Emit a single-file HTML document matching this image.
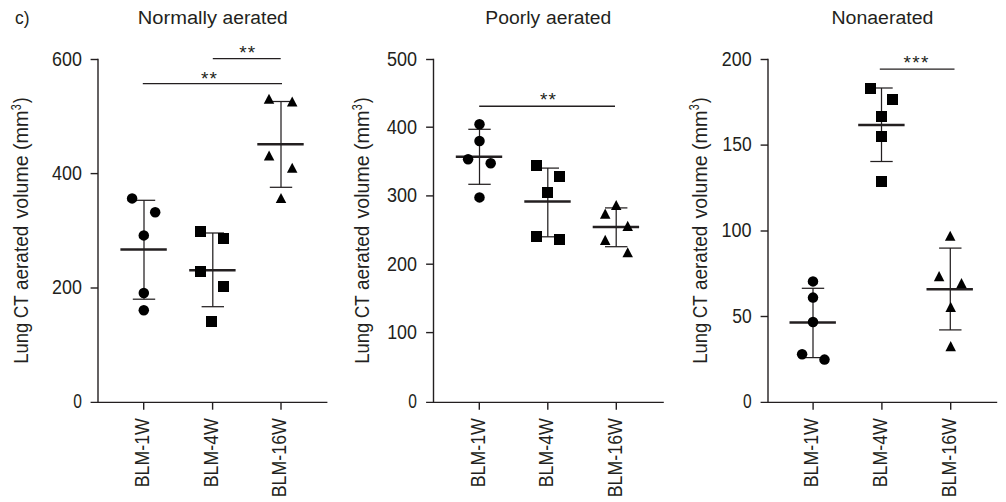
<!DOCTYPE html>
<html lang="en"><head><meta charset="utf-8"><title>Lung CT aerated volume</title>
<style>html,body{margin:0;padding:0;background:#fff;}svg{display:block;font-family:"Liberation Sans",sans-serif;}svg text{fill:#231f20;stroke:none;}.m{fill:#000;stroke:none;}</style></head><body>
<svg width="1006" height="502" viewBox="0 0 1006 502" stroke="#231f20" fill="#231f20" stroke-linecap="butt">
<rect x="0" y="0" width="1006" height="502" fill="#fff" stroke="none"/>
<text x="15.00" y="23.80" font-size="19.2" textLength="14.55" lengthAdjust="spacingAndGlyphs">c)</text>
<g>
<line x1="98.00" y1="58.80" x2="98.00" y2="403.10" stroke-width="1.4"/>
<line x1="90.60" y1="402.40" x2="327.40" y2="402.40" stroke-width="1.4"/>
<line x1="90.60" y1="59.50" x2="98.00" y2="59.50" stroke-width="1.4"/>
<text x="52.10" y="65.80" font-size="19.5" textLength="29.86" lengthAdjust="spacingAndGlyphs">600</text>
<line x1="90.60" y1="173.60" x2="98.00" y2="173.60" stroke-width="1.4"/>
<text x="52.10" y="179.90" font-size="19.5" textLength="29.86" lengthAdjust="spacingAndGlyphs">400</text>
<line x1="90.60" y1="288.00" x2="98.00" y2="288.00" stroke-width="1.4"/>
<text x="52.10" y="294.30" font-size="19.5" textLength="29.86" lengthAdjust="spacingAndGlyphs">200</text>
<text x="73.30" y="408.20" font-size="19.5" textLength="8.68" lengthAdjust="spacingAndGlyphs">0</text>
<line x1="143.70" y1="402.40" x2="143.70" y2="409.70" stroke-width="1.4"/>
<text transform="translate(149.00,487.27) rotate(-90)" font-size="20.4" textLength="69.11" lengthAdjust="spacingAndGlyphs">BLM-1W</text>
<line x1="212.60" y1="402.40" x2="212.60" y2="409.70" stroke-width="1.4"/>
<text transform="translate(217.90,487.27) rotate(-90)" font-size="20.4" textLength="69.11" lengthAdjust="spacingAndGlyphs">BLM-4W</text>
<line x1="281.00" y1="402.40" x2="281.00" y2="409.70" stroke-width="1.4"/>
<text transform="translate(286.30,497.27) rotate(-90)" font-size="20.4" textLength="79.11" lengthAdjust="spacingAndGlyphs">BLM-16W</text>
<text x="137.75" y="23.80" font-size="19.2" textLength="79.32" lengthAdjust="spacingAndGlyphs">Normally</text>
<text x="222.60" y="23.80" font-size="19.2" textLength="65.17" lengthAdjust="spacingAndGlyphs">aerated</text>
<text transform="translate(28.30,363.70) rotate(-90)" font-size="20.4" textLength="41.01" lengthAdjust="spacingAndGlyphs">Lung</text>
<text transform="translate(28.30,317.92) rotate(-90)" font-size="20.4" textLength="22.40" lengthAdjust="spacingAndGlyphs">CT</text>
<text transform="translate(28.30,290.00) rotate(-90)" font-size="20.4" textLength="64.22" lengthAdjust="spacingAndGlyphs">aerated</text>
<text transform="translate(28.30,218.50) rotate(-90)" font-size="20.4" textLength="63.13" lengthAdjust="spacingAndGlyphs">volume</text>
<text transform="translate(28.30,150.07) rotate(-90)" font-size="20.4" textLength="39.53" lengthAdjust="spacingAndGlyphs">(mm</text>
<text transform="translate(20.90,110.30) rotate(-90)" font-size="15.4" textLength="5.99" lengthAdjust="spacingAndGlyphs">3</text>
<text transform="translate(28.30,103.10) rotate(-90)" font-size="20.4" textLength="5.55" lengthAdjust="spacingAndGlyphs">)</text>
<line x1="212.80" y1="58.60" x2="280.70" y2="58.60" stroke-width="1.4"/>
<line x1="142.80" y1="83.60" x2="282.00" y2="83.60" stroke-width="1.4"/>
<line x1="144.00" y1="200.30" x2="144.00" y2="299.20" stroke-width="1.25"/>
<line x1="132.80" y1="200.30" x2="155.20" y2="200.30" stroke-width="1.25"/>
<line x1="132.80" y1="299.20" x2="155.20" y2="299.20" stroke-width="1.25"/>
<line x1="120.40" y1="249.55" x2="166.80" y2="249.55" stroke-width="2.5"/>
<circle class="m" cx="132.10" cy="198.40" r="5.25"/>
<circle class="m" cx="155.20" cy="212.20" r="5.25"/>
<circle class="m" cx="143.80" cy="235.40" r="5.25"/>
<circle class="m" cx="143.80" cy="293.00" r="5.25"/>
<circle class="m" cx="143.80" cy="310.20" r="5.25"/>
<line x1="212.80" y1="233.00" x2="212.80" y2="306.70" stroke-width="1.25"/>
<line x1="201.60" y1="233.00" x2="224.00" y2="233.00" stroke-width="1.25"/>
<line x1="201.60" y1="306.70" x2="224.00" y2="306.70" stroke-width="1.25"/>
<line x1="189.20" y1="270.30" x2="235.60" y2="270.30" stroke-width="2.5"/>
<rect class="m" x="195" y="226" width="11" height="11"/>
<rect class="m" x="218" y="233" width="11" height="11"/>
<rect class="m" x="195" y="266" width="11" height="11"/>
<rect class="m" x="218" y="281" width="11" height="11"/>
<rect class="m" x="206" y="316" width="11" height="11"/>
<line x1="281.00" y1="101.50" x2="281.00" y2="187.30" stroke-width="1.25"/>
<line x1="269.80" y1="101.50" x2="292.20" y2="101.50" stroke-width="1.25"/>
<line x1="269.80" y1="187.30" x2="292.20" y2="187.30" stroke-width="1.25"/>
<line x1="257.30" y1="144.30" x2="303.70" y2="144.30" stroke-width="2.5"/>
<polygon class="m" points="269.00,93.70 263.75,103.80 274.25,103.80"/>
<polygon class="m" points="292.20,96.40 286.95,106.50 297.45,106.50"/>
<polygon class="m" points="269.10,150.40 263.85,160.50 274.35,160.50"/>
<polygon class="m" points="292.20,162.70 286.95,172.80 297.45,172.80"/>
<polygon class="m" points="281.00,193.00 275.75,203.10 286.25,203.10"/>
</g>
<g>
<line x1="433.50" y1="58.80" x2="433.50" y2="403.10" stroke-width="1.4"/>
<line x1="426.10" y1="402.40" x2="663.80" y2="402.40" stroke-width="1.4"/>
<line x1="426.10" y1="59.50" x2="433.50" y2="59.50" stroke-width="1.4"/>
<text x="386.90" y="65.80" font-size="19.5" textLength="30.06" lengthAdjust="spacingAndGlyphs">500</text>
<line x1="426.10" y1="127.20" x2="433.50" y2="127.20" stroke-width="1.4"/>
<text x="386.80" y="133.50" font-size="19.5" textLength="30.16" lengthAdjust="spacingAndGlyphs">400</text>
<line x1="426.10" y1="195.90" x2="433.50" y2="195.90" stroke-width="1.4"/>
<text x="386.90" y="202.20" font-size="19.5" textLength="30.06" lengthAdjust="spacingAndGlyphs">300</text>
<line x1="426.10" y1="264.20" x2="433.50" y2="264.20" stroke-width="1.4"/>
<text x="387.00" y="270.50" font-size="19.5" textLength="29.96" lengthAdjust="spacingAndGlyphs">200</text>
<line x1="426.10" y1="332.60" x2="433.50" y2="332.60" stroke-width="1.4"/>
<text x="387.18" y="338.90" font-size="19.5" textLength="29.77" lengthAdjust="spacingAndGlyphs">100</text>
<text x="408.30" y="408.20" font-size="19.5" textLength="8.68" lengthAdjust="spacingAndGlyphs">0</text>
<line x1="479.30" y1="402.40" x2="479.30" y2="409.70" stroke-width="1.4"/>
<text transform="translate(484.60,487.27) rotate(-90)" font-size="20.4" textLength="69.11" lengthAdjust="spacingAndGlyphs">BLM-1W</text>
<line x1="547.80" y1="402.40" x2="547.80" y2="409.70" stroke-width="1.4"/>
<text transform="translate(553.10,487.27) rotate(-90)" font-size="20.4" textLength="69.11" lengthAdjust="spacingAndGlyphs">BLM-4W</text>
<line x1="616.30" y1="402.40" x2="616.30" y2="409.70" stroke-width="1.4"/>
<text transform="translate(621.60,497.27) rotate(-90)" font-size="20.4" textLength="79.11" lengthAdjust="spacingAndGlyphs">BLM-16W</text>
<text x="485.39" y="23.80" font-size="19.2" textLength="54.80" lengthAdjust="spacingAndGlyphs">Poorly</text>
<text x="546.00" y="23.80" font-size="19.2" textLength="65.27" lengthAdjust="spacingAndGlyphs">aerated</text>
<text transform="translate(368.90,363.70) rotate(-90)" font-size="20.4" textLength="41.01" lengthAdjust="spacingAndGlyphs">Lung</text>
<text transform="translate(368.90,317.92) rotate(-90)" font-size="20.4" textLength="22.40" lengthAdjust="spacingAndGlyphs">CT</text>
<text transform="translate(368.90,290.00) rotate(-90)" font-size="20.4" textLength="64.22" lengthAdjust="spacingAndGlyphs">aerated</text>
<text transform="translate(368.90,218.50) rotate(-90)" font-size="20.4" textLength="63.13" lengthAdjust="spacingAndGlyphs">volume</text>
<text transform="translate(368.90,150.07) rotate(-90)" font-size="20.4" textLength="39.53" lengthAdjust="spacingAndGlyphs">(mm</text>
<text transform="translate(361.50,110.30) rotate(-90)" font-size="15.4" textLength="5.99" lengthAdjust="spacingAndGlyphs">3</text>
<text transform="translate(368.90,103.10) rotate(-90)" font-size="20.4" textLength="5.55" lengthAdjust="spacingAndGlyphs">)</text>
<line x1="479.20" y1="106.30" x2="615.00" y2="106.30" stroke-width="1.4"/>
<line x1="479.50" y1="129.30" x2="479.50" y2="184.30" stroke-width="1.25"/>
<line x1="468.30" y1="129.30" x2="490.70" y2="129.30" stroke-width="1.25"/>
<line x1="468.30" y1="184.30" x2="490.70" y2="184.30" stroke-width="1.25"/>
<line x1="455.80" y1="156.70" x2="502.20" y2="156.70" stroke-width="2.5"/>
<circle class="m" cx="479.50" cy="124.30" r="5.25"/>
<circle class="m" cx="479.50" cy="141.00" r="5.25"/>
<circle class="m" cx="468.10" cy="159.20" r="5.25"/>
<circle class="m" cx="490.70" cy="163.20" r="5.25"/>
<circle class="m" cx="479.50" cy="197.40" r="5.25"/>
<line x1="547.80" y1="168.10" x2="547.80" y2="236.80" stroke-width="1.25"/>
<line x1="536.60" y1="168.10" x2="559.00" y2="168.10" stroke-width="1.25"/>
<line x1="536.60" y1="236.80" x2="559.00" y2="236.80" stroke-width="1.25"/>
<line x1="524.30" y1="201.40" x2="570.70" y2="201.40" stroke-width="2.5"/>
<rect class="m" x="531" y="160" width="11" height="11"/>
<rect class="m" x="554" y="171" width="11" height="11"/>
<rect class="m" x="542" y="187" width="11" height="11"/>
<rect class="m" x="531" y="231" width="11" height="11"/>
<rect class="m" x="554" y="234" width="11" height="11"/>
<line x1="616.20" y1="207.90" x2="616.20" y2="246.70" stroke-width="1.25"/>
<line x1="605.00" y1="207.90" x2="627.40" y2="207.90" stroke-width="1.25"/>
<line x1="605.00" y1="246.70" x2="627.40" y2="246.70" stroke-width="1.25"/>
<line x1="592.70" y1="227.10" x2="639.10" y2="227.10" stroke-width="2.5"/>
<polygon class="m" points="616.20,199.90 610.95,210.00 621.45,210.00"/>
<polygon class="m" points="605.20,208.60 599.95,218.70 610.45,218.70"/>
<polygon class="m" points="627.70,220.80 622.45,230.90 632.95,230.90"/>
<polygon class="m" points="605.20,234.80 599.95,244.90 610.45,244.90"/>
<polygon class="m" points="627.70,247.20 622.45,257.30 632.95,257.30"/>
</g>
<g>
<line x1="768.00" y1="58.80" x2="768.00" y2="403.10" stroke-width="1.4"/>
<line x1="760.60" y1="402.40" x2="997.20" y2="402.40" stroke-width="1.4"/>
<line x1="760.60" y1="59.50" x2="768.00" y2="59.50" stroke-width="1.4"/>
<text x="721.80" y="65.80" font-size="19.5" textLength="29.86" lengthAdjust="spacingAndGlyphs">200</text>
<line x1="760.60" y1="145.10" x2="768.00" y2="145.10" stroke-width="1.4"/>
<text x="722.50" y="151.40" font-size="19.5" textLength="29.16" lengthAdjust="spacingAndGlyphs">150</text>
<line x1="760.60" y1="231.00" x2="768.00" y2="231.00" stroke-width="1.4"/>
<text x="721.58" y="237.30" font-size="19.5" textLength="30.08" lengthAdjust="spacingAndGlyphs">100</text>
<line x1="760.60" y1="316.50" x2="768.00" y2="316.50" stroke-width="1.4"/>
<text x="732.20" y="322.80" font-size="19.5" textLength="19.46" lengthAdjust="spacingAndGlyphs">50</text>
<text x="743.00" y="408.20" font-size="19.5" textLength="8.68" lengthAdjust="spacingAndGlyphs">0</text>
<line x1="813.10" y1="402.40" x2="813.10" y2="409.70" stroke-width="1.4"/>
<text transform="translate(818.40,487.27) rotate(-90)" font-size="20.4" textLength="69.11" lengthAdjust="spacingAndGlyphs">BLM-1W</text>
<line x1="881.90" y1="402.40" x2="881.90" y2="409.70" stroke-width="1.4"/>
<text transform="translate(887.20,487.27) rotate(-90)" font-size="20.4" textLength="69.11" lengthAdjust="spacingAndGlyphs">BLM-4W</text>
<line x1="950.70" y1="402.40" x2="950.70" y2="409.70" stroke-width="1.4"/>
<text transform="translate(956.00,497.27) rotate(-90)" font-size="20.4" textLength="79.11" lengthAdjust="spacingAndGlyphs">BLM-16W</text>
<text x="831.48" y="23.80" font-size="19.2" textLength="102.00" lengthAdjust="spacingAndGlyphs">Nonaerated</text>
<text transform="translate(706.60,363.70) rotate(-90)" font-size="20.4" textLength="41.01" lengthAdjust="spacingAndGlyphs">Lung</text>
<text transform="translate(706.60,317.92) rotate(-90)" font-size="20.4" textLength="22.40" lengthAdjust="spacingAndGlyphs">CT</text>
<text transform="translate(706.60,290.00) rotate(-90)" font-size="20.4" textLength="64.22" lengthAdjust="spacingAndGlyphs">aerated</text>
<text transform="translate(706.60,218.50) rotate(-90)" font-size="20.4" textLength="63.13" lengthAdjust="spacingAndGlyphs">volume</text>
<text transform="translate(706.60,150.07) rotate(-90)" font-size="20.4" textLength="39.53" lengthAdjust="spacingAndGlyphs">(mm</text>
<text transform="translate(699.20,110.30) rotate(-90)" font-size="15.4" textLength="5.99" lengthAdjust="spacingAndGlyphs">3</text>
<text transform="translate(706.60,103.10) rotate(-90)" font-size="20.4" textLength="5.55" lengthAdjust="spacingAndGlyphs">)</text>
<line x1="879.80" y1="69.10" x2="954.50" y2="69.10" stroke-width="1.4"/>
<line x1="813.00" y1="288.30" x2="813.00" y2="357.60" stroke-width="1.25"/>
<line x1="801.80" y1="288.30" x2="824.20" y2="288.30" stroke-width="1.25"/>
<line x1="801.80" y1="357.60" x2="824.20" y2="357.60" stroke-width="1.25"/>
<line x1="789.50" y1="322.50" x2="835.90" y2="322.50" stroke-width="2.5"/>
<circle class="m" cx="813.00" cy="281.40" r="5.25"/>
<circle class="m" cx="813.00" cy="297.60" r="5.25"/>
<circle class="m" cx="813.00" cy="322.00" r="5.25"/>
<circle class="m" cx="802.10" cy="354.30" r="5.25"/>
<circle class="m" cx="824.50" cy="359.60" r="5.25"/>
<line x1="881.50" y1="88.00" x2="881.50" y2="161.50" stroke-width="1.25"/>
<line x1="870.30" y1="88.00" x2="892.70" y2="88.00" stroke-width="1.25"/>
<line x1="870.30" y1="161.50" x2="892.70" y2="161.50" stroke-width="1.25"/>
<line x1="858.20" y1="124.90" x2="904.60" y2="124.90" stroke-width="2.5"/>
<rect class="m" x="865" y="83" width="11" height="11"/>
<rect class="m" x="887" y="94" width="11" height="11"/>
<rect class="m" x="876" y="111" width="11" height="11"/>
<rect class="m" x="876" y="131" width="11" height="11"/>
<rect class="m" x="876" y="176" width="11" height="11"/>
<line x1="950.30" y1="248.10" x2="950.30" y2="329.90" stroke-width="1.25"/>
<line x1="939.10" y1="248.10" x2="961.50" y2="248.10" stroke-width="1.25"/>
<line x1="939.10" y1="329.90" x2="961.50" y2="329.90" stroke-width="1.25"/>
<line x1="926.50" y1="289.30" x2="972.90" y2="289.30" stroke-width="2.5"/>
<polygon class="m" points="950.20,230.70 944.95,240.80 955.45,240.80"/>
<polygon class="m" points="939.10,271.10 933.85,281.20 944.35,281.20"/>
<polygon class="m" points="961.50,278.10 956.25,288.20 966.75,288.20"/>
<polygon class="m" points="950.70,301.80 945.45,311.90 955.95,311.90"/>
<polygon class="m" points="950.70,341.10 945.45,351.20 955.95,351.20"/>
</g>
<text x="239.19 247.69" y="59.07" font-size="19.0">**</text>
<text x="200.89 209.39" y="84.97" font-size="19.0">**</text>
<text x="539.89 548.59" y="106.37" font-size="19.0">**</text>
<text x="903.59 912.24 920.89" y="68.97" font-size="19.0">***</text>
</svg></body></html>
